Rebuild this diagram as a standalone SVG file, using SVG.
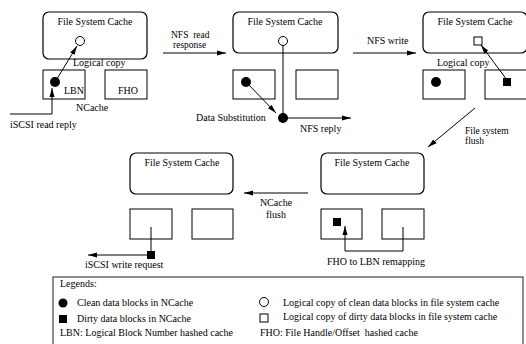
<svg xmlns="http://www.w3.org/2000/svg" width="526" height="344" viewBox="0 0 526 344">
<style>
text{font-family:"Liberation Serif","Times New Roman",serif;font-size:10px;fill:#000;white-space:pre}
.c{text-anchor:middle}
.sm{font-size:9.5px}
.fs{fill:#fff;stroke:#000;stroke-width:1.2}
.nc{fill:#fff;stroke:#000;stroke-width:1}
.ln{fill:none;stroke:#000;stroke-width:1}
.hol{fill:#fff;stroke:#000;stroke-width:1}
.fil{fill:#000}
</style>
<defs>
<marker id="ah" markerWidth="10" markerHeight="6" refX="9" refY="3" orient="auto" markerUnits="userSpaceOnUse">
<path d="M0,0.5 L9,3 L0,5.5 Z" fill="#000"/>
</marker>
</defs>
<rect width="526" height="344" fill="#fff"/>

<g id="panel1">
<rect class="fs" x="43" y="12" width="104" height="47" rx="6"/>
<text class="c" x="95" y="25">File System Cache</text>
<rect class="nc" x="43" y="70" width="42" height="29"/>
<rect class="nc" x="105" y="70" width="42" height="29"/>
<text x="64" y="94">LBN</text>
<text x="118" y="94">FHO</text>
<text x="73" y="66">Logical copy</text>
<text x="76" y="111">NCache</text>
<circle class="hol" cx="80" cy="41" r="4.5"/>
<circle class="fil" cx="55" cy="82" r="5"/>
</g>

<g id="panel2">
<rect class="fs" x="233" y="12" width="105" height="41" rx="6"/>
<text class="c" x="285" y="25">File System Cache</text>
<rect class="nc" x="233" y="70" width="42" height="29"/>
<rect class="nc" x="296" y="70" width="42" height="29"/>
<circle class="fil" cx="246" cy="82" r="5"/>
<circle class="fil" cx="283" cy="118" r="5"/>
<circle class="hol" cx="283" cy="41" r="4.5"/>
<text x="196" y="121">Data Substitution</text>
<text x="300" y="132">NFS reply</text>
</g>

<g id="panel3">
<rect class="fs" x="423" y="12" width="104" height="41" rx="6"/>
<text class="c" x="475" y="25">File System Cache</text>
<rect class="nc" x="423" y="70" width="42" height="29"/>
<rect class="nc" x="485" y="70" width="42" height="29"/>
<circle class="fil" cx="436" cy="82" r="5"/>
<rect class="fil" x="503" y="78" width="8" height="8"/>
<rect class="hol" x="474" y="37" width="8" height="8"/>
<text x="437" y="66">Logical copy</text>
</g>

<g id="panel4">
<rect class="fs" x="321" y="153" width="103" height="41" rx="6"/>
<text class="c" x="372" y="166">File System Cache</text>
<rect class="nc" x="321" y="209" width="41" height="30"/>
<rect class="nc" x="382" y="209" width="42" height="30"/>
<rect class="fil" x="333" y="218" width="8" height="8"/>
<text class="c" x="376" y="265">FHO to LBN remapping</text>
</g>

<g id="panel5">
<rect class="fs" x="130" y="153" width="103" height="41" rx="6"/>
<text class="c" x="182" y="166">File System Cache</text>
<rect class="nc" x="130" y="209" width="42" height="30"/>
<rect class="nc" x="192" y="209" width="41" height="30"/>
<rect class="fil" x="147" y="251" width="8" height="8"/>
<text x="85" y="268">iSCSI write request</text>
</g>

<g id="connectors">
<line class="ln" x1="55" y1="82" x2="77" y2="46" marker-end="url(#ah)"/>
<polyline class="ln" points="10,114 52,114 52,88" marker-end="url(#ah)"/>
<text x="10" y="128">iSCSI read reply</text>

<line class="ln" x1="163" y1="53" x2="226" y2="53" marker-end="url(#ah)"/>
<text class="sm" x="171" y="38">NFS  read</text>
<text class="sm" x="173" y="48">response</text>
<line class="ln" x1="246" y1="82" x2="276" y2="113" marker-end="url(#ah)"/>
<line class="ln" x1="283" y1="45.5" x2="283" y2="118"/>
<line class="ln" x1="283" y1="118" x2="351" y2="118" marker-end="url(#ah)"/>

<line class="ln" x1="353" y1="53" x2="416" y2="53" marker-end="url(#ah)"/>
<text x="367" y="44">NFS write</text>
<line class="ln" x1="507" y1="80" x2="481" y2="45" marker-end="url(#ah)"/>

<line class="ln" x1="475" y1="108" x2="428" y2="147" marker-end="url(#ah)"/>
<text class="sm" x="465" y="134">File system</text>
<text class="sm" x="465" y="144">flush</text>

<line class="ln" x1="308" y1="193" x2="244" y2="193" marker-end="url(#ah)"/>
<text class="c" x="276" y="206">NCache</text>
<text class="c" x="276" y="218">flush</text>

<polyline class="ln" points="403,227 403,251 345,251 345,226" marker-end="url(#ah)"/>

<line class="ln" x1="151" y1="227" x2="151" y2="251"/>
<line class="ln" x1="147" y1="255" x2="88" y2="255" marker-end="url(#ah)"/>
</g>

<g id="legend">
<rect x="53" y="277" width="470" height="80" fill="none" stroke="#444" stroke-width="1.2"/>
<text x="60" y="287">Legends:</text>
<circle class="fil" cx="63" cy="303" r="4.5"/>
<text x="77" y="306">Clean data blocks in NCache</text>
<rect class="fil" x="59" y="315" width="8" height="8"/>
<text x="77" y="322">Dirty data blocks in NCache</text>
<text x="60" y="336">LBN: Logical Block Number hashed cache</text>
<circle class="hol" cx="264" cy="302" r="4.5"/>
<text x="283" y="306">Logical copy of clean data blocks in file system cache</text>
<rect class="hol" x="260" y="314" width="8" height="8"/>
<text x="283" y="320">Logical copy of dirty data blocks in file system cache</text>
<text x="260" y="336">FHO: File Handle/Offset  hashed cache</text>
</g>
</svg>
